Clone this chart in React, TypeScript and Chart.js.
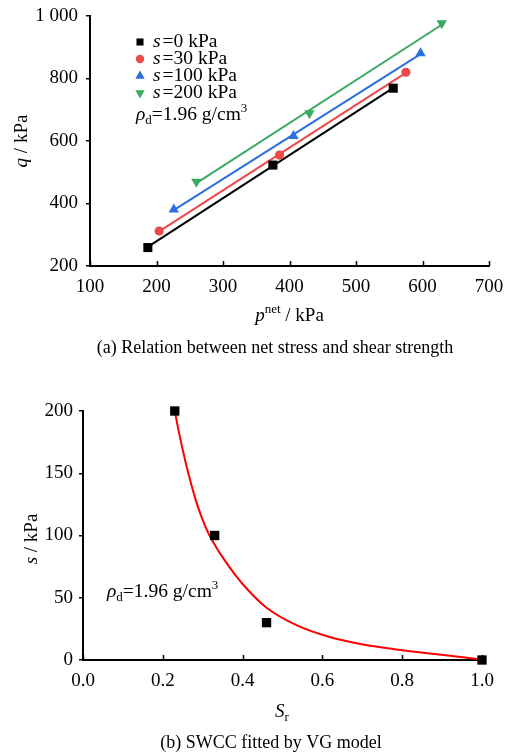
import React, { useEffect, useRef } from 'react';
import { Chart, registerables } from 'chart.js';

Chart.register(...registerables);

const FONT = '"Liberation Serif", "Times New Roman", serif';
const W = 505;
const H = 378;

// ---- (a) net stress vs. shear strength ----
const suctions = ['0', '30', '100', '200'];
const pNet0 = [187, 375, 556];
const q0 = [259, 523, 769];
const pNet30 = [204, 385, 575];
const q30 = [312, 555, 820];
const pNet100 = [226, 406, 597];
const q100 = [381, 616, 881];
const pNet200 = [260, 430, 629];
const q200 = [470, 689, 977];
// end points of the linear fits (p, q)
const fitP0 = [187, 556];
const fitQ0 = [261, 770];
const fitP30 = [204, 575];
const fitQ30 = [311, 818];
const fitP100 = [226, 597];
const fitQ100 = [379, 878];
const fitP200 = [260, 629];
const fitQ200 = [465, 972];
const xTicksA = ['100', '200', '300', '400', '500', '600', '700'];
const yTicksA = ['200', '400', '600', '800', '1 000'];

// ---- (b) SWCC ----
const srMeasured = [0.23, 0.33, 0.46, 1.0];
const sMeasured = [200, 100, 30, 0];
const srVG = [0.23, 0.241, 0.26, 0.283, 0.297, 0.314, 0.333, 0.351, 0.38, 0.414, 0.46, 0.535, 0.618, 0.702, 0.785, 0.869, 0.952, 1.0];
const sVG = [200, 182, 155, 128, 115, 102, 91, 82, 69, 56, 42, 28, 18.5, 12.5, 8.5, 5.3, 2.2, 0.3];
const xTicksB = ['0.0', '0.2', '0.4', '0.6', '0.8', '1.0'];
const yTicksB = ['0', '50', '100', '150', '200'];

const BLACK = '#000000';
const RED = '#ef4848';
const BLUE = '#2c6fe0';
const GREEN = '#3aa963';

type Run = { t: string; i?: boolean; s?: number; dy?: number; dx?: number };

function drawRuns(ctx: CanvasRenderingContext2D, runs: Run[], x: number, y: number, base: number, align: 'left' | 'center') {
  ctx.save();
  ctx.fillStyle = '#000';
  ctx.textBaseline = 'alphabetic';
  ctx.textAlign = 'left';
  let w = 0;
  for (const r of runs) {
    ctx.font = `${r.i ? 'italic ' : ''}${r.s ?? base}px ${FONT}`;
    w += ctx.measureText(r.t).width + (r.dx ?? 0);
  }
  let cx = align === 'center' ? x - w / 2 : x;
  for (const r of runs) {
    ctx.font = `${r.i ? 'italic ' : ''}${r.s ?? base}px ${FONT}`;
    cx += r.dx ?? 0;
    ctx.fillText(r.t, cx, y + (r.dy ?? 0));
    cx += ctx.measureText(r.t).width;
  }
  ctx.restore();
}

function drawRotated(ctx: CanvasRenderingContext2D, runs: Run[], x: number, y: number, base: number) {
  ctx.save();
  ctx.translate(x, y);
  ctx.rotate(-Math.PI / 2);
  drawRuns(ctx, runs, 0, 0, base, 'center');
  ctx.restore();
}

function drawMarker(ctx: CanvasRenderingContext2D, style: string, x: number, y: number, r: number, color: string, rot: number) {
  ctx.save();
  ctx.fillStyle = color;
  ctx.translate(x, y);
  ctx.rotate((rot * Math.PI) / 180);
  ctx.beginPath();
  if (style === 'rect') {
    const h = r * Math.SQRT1_2;
    ctx.rect(-h, -h, 2 * h, 2 * h);
  } else if (style === 'triangle') {
    ctx.moveTo(0, -r);
    ctx.lineTo(r * Math.sin((2 * Math.PI) / 3), -r * Math.cos((2 * Math.PI) / 3));
    ctx.lineTo(r * Math.sin((4 * Math.PI) / 3), -r * Math.cos((4 * Math.PI) / 3));
    ctx.closePath();
  } else {
    ctx.arc(0, 0, r, 0, Math.PI * 2);
  }
  ctx.fill();
  ctx.restore();
}

function inwardTicks(chart: any) {
  const xs = chart.scales.x;
  const bottom = chart.chartArea.bottom;
  const ctx: CanvasRenderingContext2D = chart.ctx;
  ctx.save();
  ctx.strokeStyle = '#000';
  ctx.lineWidth = 1.5;
  for (const t of xs.ticks) {
    const px = Math.round(xs.getPixelForValue(t.value)) + 0.5;
    ctx.beginPath();
    ctx.moveTo(px, bottom);
    ctx.lineTo(px, bottom - 5);
    ctx.stroke();
  }
  ctx.restore();
}

function pts(xs: number[], ys: number[]) {
  return xs.map((x, i) => ({ x, y: ys[i] }));
}

function fixedArea(left: number, top: number, right: number, bottom: number) {
  return {
    padding: { left: 0, top, right: W - right, bottom: 0 },
    yFit: (s: any) => {
      s.width = left;
      s.paddingTop = 0;
      s.paddingBottom = 0;
    },
    xFit: (s: any) => {
      s.height = H - bottom;
      s.paddingLeft = 0;
      s.paddingRight = 0;
    },
  };
}

function axisCommon(min: number, max: number, step: number, labels: string[], isX: boolean, fit: (s: any) => void, pad: number) {
  return {
    type: 'linear' as const,
    min,
    max,
    afterFit: fit,
    ticks: {
      stepSize: step,
      color: '#000',
      padding: pad,
      font: { family: FONT, size: 19 },
      callback: (_v: any, i: number) => labels[i],
      maxRotation: 0,
      autoSkip: false,
    },
    border: { display: true, color: '#000', width: 2 },
    grid: isX
      ? { display: false, drawTicks: false }
      : { display: true, drawOnChartArea: false, drawTicks: true, tickLength: 4, color: '#000', lineWidth: 1.5 },
    title: { display: false },
  };
}

export default function App() {
  const refA = useRef<HTMLCanvasElement>(null);
  const refB = useRef<HTMLCanvasElement>(null);

  useEffect(() => {
    const areaA = fixedArea(90, 16, 489, 266);
    const series = [
      { p: pNet0, q: q0, fp: fitP0, fq: fitQ0, color: BLACK, style: 'rect', r: 6.4, rot: 0, lr: 5 },
      { p: pNet30, q: q30, fp: fitP30, fq: fitQ30, color: RED, style: 'circle', r: 4.6, rot: 0, lr: 4.2 },
      { p: pNet100, q: q100, fp: fitP100, fq: fitQ100, color: BLUE, style: 'triangle', r: 6, rot: 0, lr: 5.4 },
      { p: pNet200, q: q200, fp: fitP200, fq: fitQ200, color: GREEN, style: 'triangle', r: 6, rot: 180, lr: 5.4 },
    ];

    const decorA = {
      id: 'decorA',
      afterDraw(chart: any) {
        const ctx: CanvasRenderingContext2D = chart.ctx;
        inwardTicks(chart);
        // legend
        const rows = [47, 64, 81, 98];
        series.forEach((s, i) => {
          drawMarker(ctx, s.style, 140, rows[i] - 5, s.lr, s.color, s.rot);
          drawRuns(ctx, [{ t: 's', i: true }, { t: `=${suctions[i]} kPa`, dx: 2 }], 153, rows[i], 19.5, 'left');
        });
        drawRuns(
          ctx,
          [{ t: 'ρ', i: true }, { t: 'd', s: 13, dy: 4 }, { t: '=1.96 g/cm' }, { t: '3', s: 13, dy: -8 }],
          136,
          120,
          19.5,
          'left'
        );
        // axis titles
        drawRotated(ctx, [{ t: 'q', i: true }, { t: ' / kPa' }], 27, 141, 19);
        drawRuns(ctx, [{ t: 'p', i: true }, { t: 'net', s: 13, dy: -8 }, { t: ' / kPa' }], 289.5, 321, 19, 'center');
        // caption
        drawRuns(ctx, [{ t: '(a) Relation between net stress and shear strength' }], 275, 353, 18, 'center');
      },
    };

    const chartA = new Chart(refA.current!, {
      type: 'scatter',
      data: {
        datasets: [
          ...series.map((s) => ({
            data: pts(s.p, s.q),
            pointStyle: s.style as any,
            pointRadius: s.r,
            pointRotation: s.rot,
            backgroundColor: s.color,
            borderColor: s.color,
            borderWidth: 0,
            clip: false as any,
          })),
          ...series.map((s) => ({
            data: pts(s.fp, s.fq),
            showLine: true,
            pointRadius: 0,
            borderColor: s.color,
            borderWidth: 2,
            backgroundColor: s.color,
          })),
        ],
      },
      options: {
        responsive: false,
        animation: false,
        devicePixelRatio: 1,
        layout: { padding: areaA.padding },
        plugins: { legend: { display: false }, tooltip: { enabled: false }, title: { display: false } },
        scales: {
          x: { ...axisCommon(100, 700, 100, xTicksA, true, areaA.xFit, 10), position: 'bottom' },
          y: { ...axisCommon(200, 1000, 200, yTicksA, false, areaA.yFit, 8), position: 'left' },
        },
      },
      plugins: [decorA],
    });

    const areaB = fixedArea(83, 33, 482, 282);
    const decorB = {
      id: 'decorB',
      afterDraw(chart: any) {
        const ctx: CanvasRenderingContext2D = chart.ctx;
        inwardTicks(chart);
        drawRuns(
          ctx,
          [{ t: 'ρ', i: true }, { t: 'd', s: 13, dy: 4 }, { t: '=1.96 g/cm' }, { t: '3', s: 13, dy: -8 }],
          107,
          219,
          19.5,
          'left'
        );
        drawRotated(ctx, [{ t: 's', i: true }, { t: ' / kPa' }], 37, 161, 19);
        drawRuns(ctx, [{ t: 'S', i: true }, { t: 'r', s: 13, dy: 4 }], 282, 339, 19, 'center');
        drawRuns(ctx, [{ t: '(b) SWCC fitted by VG model' }], 271, 370, 18, 'center');
      },
    };

    const chartB = new Chart(refB.current!, {
      type: 'scatter',
      data: {
        datasets: [
          {
            data: pts(srMeasured, sMeasured),
            pointStyle: 'rect',
            pointRadius: 6.6,
            backgroundColor: BLACK,
            borderColor: BLACK,
            borderWidth: 0,
            clip: false as any,
          },
          {
            data: pts(srVG, sVG),
            showLine: true,
            pointRadius: 0,
            borderColor: '#ff0000',
            borderWidth: 2,
            cubicInterpolationMode: 'monotone',
            clip: false as any,
          },
        ],
      },
      options: {
        responsive: false,
        animation: false,
        devicePixelRatio: 1,
        layout: { padding: areaB.padding },
        plugins: { legend: { display: false }, tooltip: { enabled: false }, title: { display: false } },
        scales: {
          x: { ...axisCommon(0, 1, 0.2, xTicksB, true, areaB.xFit, 10), position: 'bottom' },
          y: { ...axisCommon(0, 200, 50, yTicksB, false, areaB.yFit, 6), position: 'left' },
        },
      },
      plugins: [decorB],
    });

    return () => {
      chartA.destroy();
      chartB.destroy();
    };
  }, []);

  return (
    <div style={{ position: 'absolute', left: 0, top: 0, width: W, height: 2 * H, background: '#fff' }}>
      <canvas ref={refA} width={W} height={H} style={{ display: 'block', width: W, height: H }} />
      <canvas ref={refB} width={W} height={H} style={{ display: 'block', width: W, height: H }} />
    </div>
  );
}
